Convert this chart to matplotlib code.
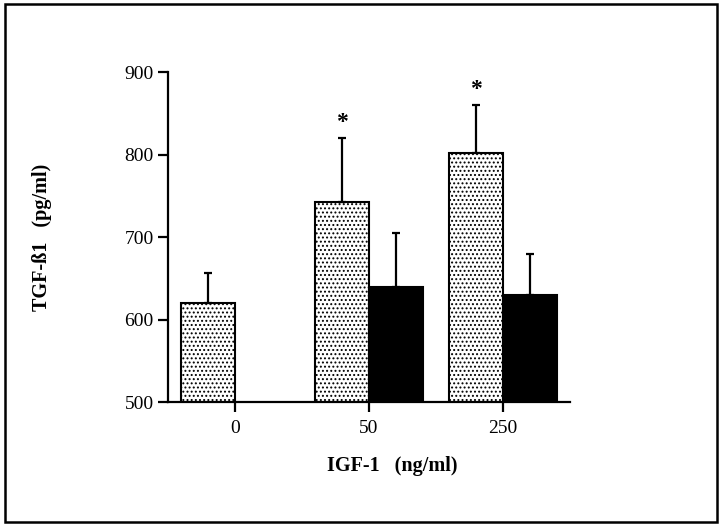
import matplotlib.pyplot as plt
import numpy as np
from matplotlib.patches import Rectangle

# Values
doses = ['0', '50', '250']
igf_mean = [620, 742, 802]
igf_err = [37, 78, 58]
blocked_mean = [np.nan, 640, 630]
blocked_err = [np.nan, 65, 49]
significant = [False, True, True]

plt.rcParams['font.family'] = ['Liberation Serif', 'DejaVu Serif']
plt.rcParams['hatch.linewidth'] = 0.9

fig = plt.figure(figsize=(7.2, 5.26), dpi=100)
ax = fig.add_axes([0.233, 0.2357, 0.559, 0.6273])

x = np.arange(len(doses))
w = 0.4

ax.bar(x - w / 2, igf_mean, width=w, color='white', edgecolor='black',
       hatch='....', linewidth=1.5, zorder=2)
ax.bar(x + w / 2, blocked_mean, width=w, color='black', edgecolor='black',
       linewidth=1.5, zorder=2)

zeros = [0] * len(doses)
ax.errorbar(x - w / 2, igf_mean, yerr=[zeros, igf_err], fmt='none',
            ecolor='black', elinewidth=1.6, capsize=3.2, capthick=1.6, zorder=3)
ax.errorbar(x + w / 2, blocked_mean, yerr=[zeros, blocked_err], fmt='none',
            ecolor='black', elinewidth=1.6, capsize=3.2, capthick=1.6, zorder=3)

for i, sig in enumerate(significant):
    if sig:
        ax.text(x[i] - w / 2, igf_mean[i] + igf_err[i] + 19, '*',
                ha='center', va='center', fontsize=17, fontweight='bold')

ax.set_xlim(-0.5, 2.5)
ax.set_ylim(500, 900)
ax.set_yticks([500, 600, 700, 800, 900])
ax.set_xticks(x)
ax.set_xticklabels(doses)

for side in ['top', 'right']:
    ax.spines[side].set_visible(False)
for side in ['left', 'bottom']:
    ax.spines[side].set_linewidth(1.6)
ax.tick_params(axis='both', direction='out', length=7, width=1.6,
               labelsize=14, pad=3)
ax.tick_params(axis='x', pad=6)

fig.text(392 / 720, 1 - 466 / 526, 'IGF-1   (ng/ml)', ha='center', va='center',
         fontsize=14.5, fontweight='bold')
fig.text(42 / 720, 1 - 237 / 526, 'TGF-ß1   (pg/ml)', ha='center', va='center',
         rotation=90, fontsize=14.5, fontweight='bold')

fig.patches.append(Rectangle((5 / 720, 1 - 522 / 526), 712 / 720, 518 / 526,
                             transform=fig.transFigure, fill=False,
                             edgecolor='black', linewidth=1.8))

fig.savefig('out.png', dpi=100)
